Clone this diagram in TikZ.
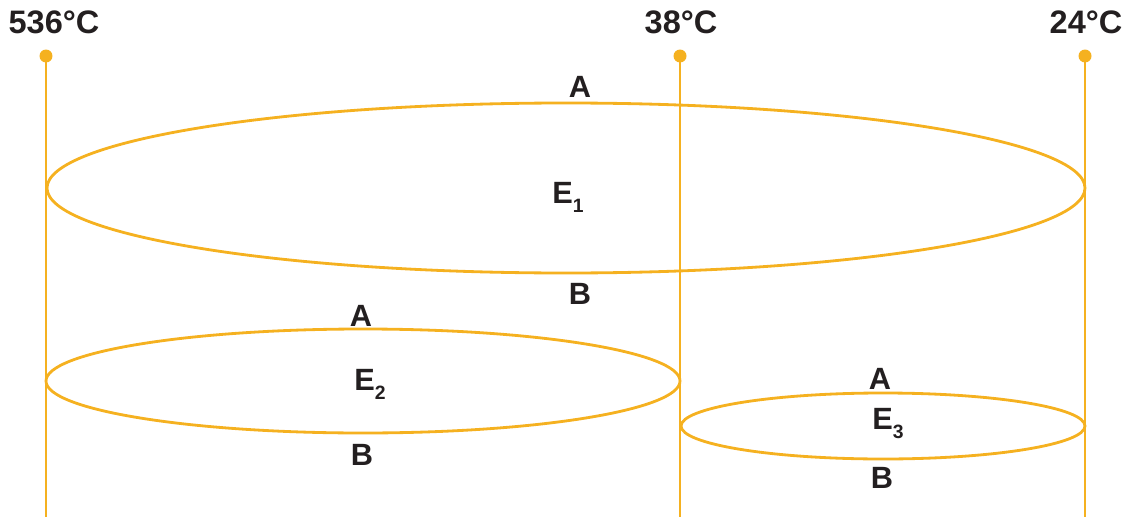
\documentclass[tikz,border=0pt]{standalone}
\usepackage{fontspec}
\setmainfont{Liberation Sans}
\usepackage{tikz}
\usetikzlibrary{positioning}

\definecolor{amber}{HTML}{F5B120}
\definecolor{ink}{HTML}{231F20}
\newcommand{\lowsub}[1]{\raisebox{-5.5pt}{\fontsize{11}{11}\selectfont #1}}

\begin{document}
\begin{tikzpicture}[x=0.02cm, y=-0.02cm, line width=1.6pt,
   temp/.style={font=\fontsize{18.5}{22}\selectfont\bfseries, text=ink, inner sep=0pt},
   lbl/.style={font=\fontsize{17.5}{20}\selectfont\bfseries, text=ink, inner sep=0pt},
   wire/.style={draw=amber},
   tip/.style={circle, fill=amber, minimum size=0.26cm, inner sep=0pt}]
  \useasboundingbox (0,0) rectangle (1132,517);
  % temperature rails
  \node[temp] (t1) at (54,22)   {536°C};
  \node[temp] (t2) at (681,22)  {38°C};
  \node[temp] (t3) at (1086,22) {24°C};
  \node[tip] (d1) at (46,56)   {};
  \node[tip] (d2) at (680,56)  {};
  \node[tip] (d3) at (1085,56) {};
  \coordinate (f1) at (46,517);
  \coordinate (f2) at (680,517);
  \coordinate (f3) at (1085,517);
  \draw[wire] (d1.center) -- (f1);
  \draw[wire] (d2.center) -- (f2);
  \draw[wire] (d3.center) -- (f3);
  % exchangers
  \draw[wire] (566,188) ellipse [x radius=519, y radius=85];
  \draw[wire] (363,381) ellipse [x radius=317, y radius=52];
  \draw[wire] (883,426) ellipse [x radius=202, y radius=33];
  \node[lbl] (a1) at (580,87)  {A};
  \node[lbl, anchor=base west] (e1) at (551,203) {E\lowsub{1}};
  \node[lbl] (b1) at (580,294) {B};
  \node[lbl] (a2) at (361,316) {A};
  \node[lbl, anchor=base west] (e2) at (353,390) {E\lowsub{2}};
  \node[lbl] (b2) at (362,455) {B};
  \node[lbl] (a3) at (880,379) {A};
  \node[lbl, anchor=base west] (e3) at (871,429) {E\lowsub{3}};
  \node[lbl] (b3) at (882,478) {B};
\end{tikzpicture}
\end{document}
